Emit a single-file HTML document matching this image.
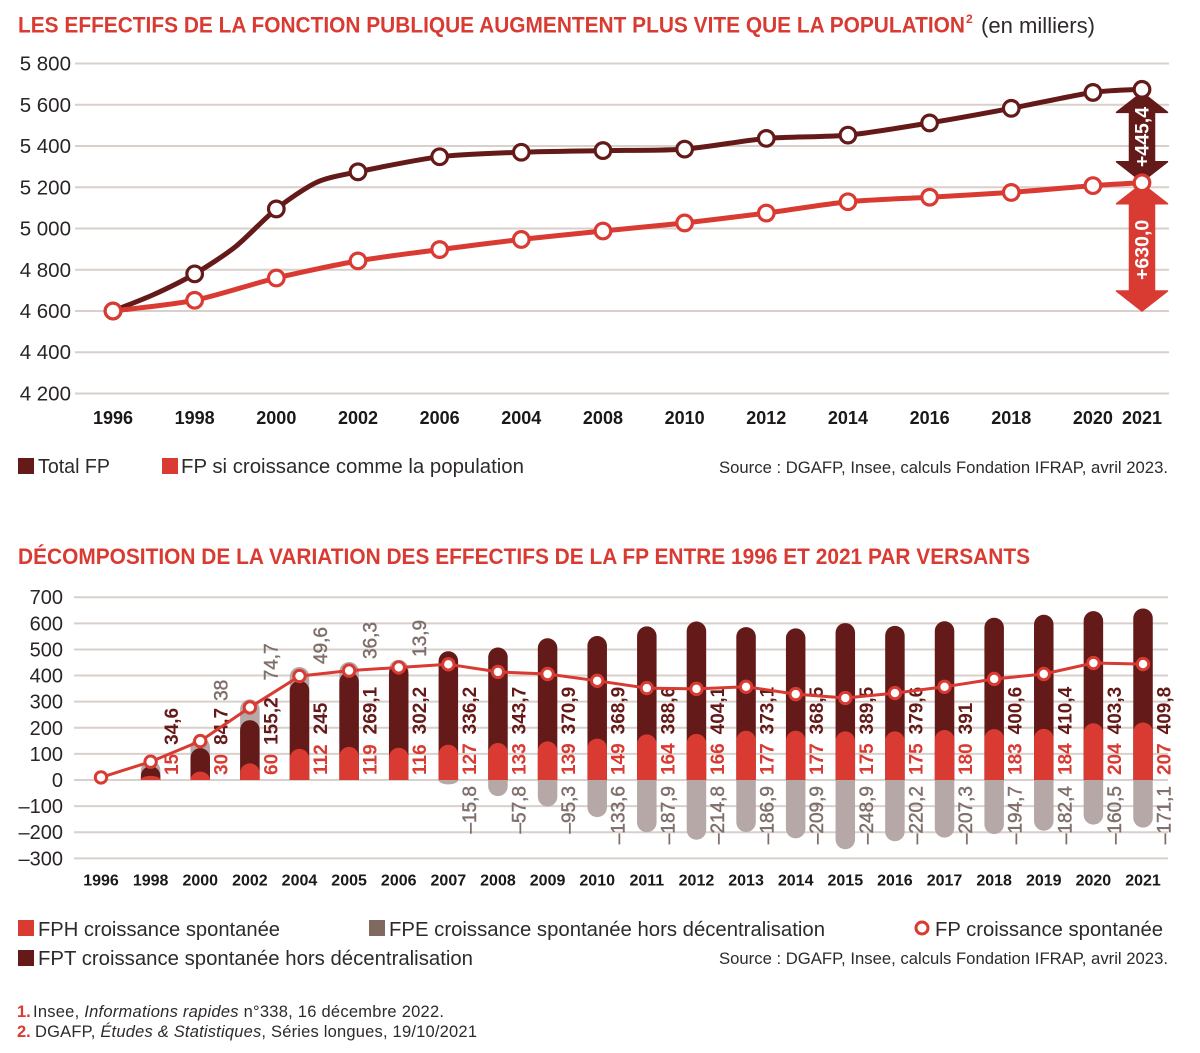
<!DOCTYPE html>
<html lang="fr">
<head>
<meta charset="utf-8">
<title>Effectifs de la fonction publique</title>
<style>
html,body{margin:0;padding:0;background:#fff;}
svg{display:block;font-family:"Liberation Sans",sans-serif;}
.title{font-size:22.5px;font-weight:700;fill:#d93a32;}
.legend{font-size:20px;fill:#2f2a2a;}
.source{font-size:16.5px;fill:#2f2a2a;}
.note{font-size:16.5px;fill:#2f2a2a;}
</style>
</head>
<body>
<svg id="page" width="1200" height="1053" viewBox="0 0 1200 1053" xmlns="http://www.w3.org/2000/svg">
  <rect width="1200" height="1053" fill="#ffffff"/>

  <text class="title" x="18" y="32.5" textLength="947" lengthAdjust="spacingAndGlyphs">LES EFFECTIFS DE LA FONCTION PUBLIQUE AUGMENTENT PLUS VITE QUE LA POPULATION</text>
  <text x="966" y="23" font-size="12" font-weight="700" fill="#d93a32">2</text>
  <text x="981" y="33" font-size="22" fill="#2f2a2a" textLength="114" lengthAdjust="spacingAndGlyphs">(en milliers)</text>

  <g id="top-chart"></g>

  <rect x="18" y="458" width="16" height="16" fill="#641a18"/>
  <text class="legend" x="38" y="473" textLength="72" lengthAdjust="spacingAndGlyphs">Total FP</text>
  <rect x="162" y="458" width="16" height="16" fill="#d93a32"/>
  <text class="legend" x="181" y="473" textLength="343" lengthAdjust="spacingAndGlyphs">FP si croissance comme la population</text>
  <text class="source" x="719" y="473" textLength="449" lengthAdjust="spacingAndGlyphs">Source : DGAFP, Insee, calculs Fondation IFRAP, avril 2023.</text>

  <text class="title" x="18" y="564" textLength="1012" lengthAdjust="spacingAndGlyphs">DÉCOMPOSITION DE LA VARIATION DES EFFECTIFS DE LA FP ENTRE 1996 ET 2021 PAR VERSANTS</text>

  <g id="bottom-chart"></g>

  <rect x="18" y="920" width="16" height="16" fill="#d93a32"/>
  <text class="legend" x="38" y="936" textLength="242" lengthAdjust="spacingAndGlyphs">FPH croissance spontanée</text>
  <rect x="369" y="920" width="16" height="16" fill="#80695f"/>
  <text class="legend" x="389" y="936" textLength="436" lengthAdjust="spacingAndGlyphs">FPE croissance spontanée hors décentralisation</text>
  <circle cx="922" cy="928" r="6" fill="#ffffff" stroke="#d93a32" stroke-width="3"/>
  <text class="legend" x="935" y="936" textLength="228" lengthAdjust="spacingAndGlyphs">FP croissance spontanée</text>
  <rect x="18" y="950" width="16" height="16" fill="#641a18"/>
  <text class="legend" x="38" y="965" textLength="435" lengthAdjust="spacingAndGlyphs">FPT croissance spontanée hors décentralisation</text>
  <text class="source" x="719" y="964" textLength="449" lengthAdjust="spacingAndGlyphs">Source : DGAFP, Insee, calculs Fondation IFRAP, avril 2023.</text>

  <text x="17" y="1017" font-size="16.5" font-weight="700" fill="#d93a32">1.</text>
  <text class="note" x="33" y="1017" textLength="411">Insee, <tspan font-style="italic">Informations rapides</tspan> n°338, 16 décembre 2022.</text>
  <text x="17" y="1037" font-size="16.5" font-weight="700" fill="#d93a32">2.</text>
  <text class="note" x="35" y="1037" textLength="442">DGAFP, <tspan font-style="italic">Études &amp; Statistiques</tspan>, Séries longues, 19/10/2021</text>
</svg>

<script>
// ---------- top chart data ----------
var topYears = ['1996','1998','2000','2002','2006','2004','2008','2010','2012','2014','2016','2018','2020','2021'];
var topTicks = [5800,5600,5400,5200,5000,4800,4600,4400,4200];
var totalFP = [4600,4780,5095,5275,5348,5370,5378,5385,5437,5453,5512,5583,5660,5675];
var popFP = [4600,4652,4760,4843,4898,4947,4988,5027,5075,5130,5152,5175,5208,5222];
var totalBetweenSlots = [0.5,1.5,2.5];
var totalBetweenValues = [4680,4912,5225];
var arrowTotalLabel = '+445,4';
var arrowPopLabel = '+630,0';

// ---------- bottom chart data ----------
var botYears = ['1996','1998','2000','2002','2004','2005','2006','2007','2008','2009','2010','2011','2012','2013','2014','2015','2016','2017','2018','2019','2020','2021'];
var botTicks = [700,600,500,400,300,200,100,0,-100,-200,-300];
var fph = [0,15,30,60,112,119,116,127,133,139,149,164,166,177,177,175,175,180,183,184,204,207];
var fpt = [0,34.6,84.7,155.2,245,269.1,302.2,336.2,343.7,370.9,368.9,388.6,404.1,373.1,368.5,389.5,379.6,391,400.6,410.4,403.3,409.8];
var fpe = [0,20,38,74.7,49.6,36.3,13.9,-15.8,-57.8,-95.3,-133.6,-187.9,-214.8,-186.9,-209.9,-248.9,-220.2,-207.3,-194.7,-182.4,-160.5,-171.1];
var fpTotal = [10,70,149,278,398,419,431,443,414,406,380,352,349,357,329,314,333,357,387,406,448,444];
var fpeHiddenLabelYears = ['1998'];

// ---------- colours ----------
var DARK = '#641a18', RED = '#d93a32', GREYBAR = '#b5a8a6', GREYTXT = '#7f6f6b', GRID = '#d9d0cc', INK = '#2a2525';
var NS = 'http://www.w3.org/2000/svg';

function mk(tag, attrs, parent, txt) {
  var el = document.createElementNS(NS, tag);
  for (var k in attrs) el.setAttribute(k, attrs[k]);
  if (txt !== undefined) el.textContent = txt;
  parent.appendChild(el);
  return el;
}
function fr(v) { return String(v).replace('.', ',').replace('-', '–'); }
function thousands(v) { var s = String(v); return s.length > 3 ? s.slice(0, -3) + ' ' + s.slice(-3) : s; }

// ---------- axis functions ----------
function xTop(i) { return i <= 12 ? 113 + 81.66 * i : 1093 + 49 * (i - 12); }
function yTop(v) { return 311 - (v - 4600) * 0.2062; }
function xBot(i) { return 101 + 49.62 * i; }
function yBot(v) { return 780 - v * 0.2611; }
function barLen(v) { return v * 0.278; }

function smooth(pts) {
  var d = 'M' + pts[0][0].toFixed(1) + ' ' + pts[0][1].toFixed(1);
  var t = 0.13;
  for (var i = 0; i < pts.length - 1; i++) {
    var p0 = pts[Math.max(i - 1, 0)], p1 = pts[i], p2 = pts[i + 1], p3 = pts[Math.min(i + 2, pts.length - 1)];
    d += ' C' + (p1[0] + (p2[0] - p0[0]) * t).toFixed(1) + ' ' + (p1[1] + (p2[1] - p0[1]) * t).toFixed(1) +
      ' ' + (p2[0] - (p3[0] - p1[0]) * t).toFixed(1) + ' ' + (p2[1] - (p3[1] - p1[1]) * t).toFixed(1) +
      ' ' + p2[0].toFixed(1) + ' ' + p2[1].toFixed(1);
  }
  return d;
}

// ---------- top chart ----------
(function () {
  var g = document.getElementById('top-chart');
  topTicks.forEach(function (t) {
    var line = mk('line', {x1: 75, x2: 1169, y1: yTop(t), y2: yTop(t), stroke: GRID, 'stroke-width': 2}, g);
    
    
    var lab = mk('text', {x: 71, y: yTop(t) + 7, 'text-anchor': 'end', 'font-size': 20.5, fill: INK}, g, thousands(t));
    
    
  });
  topYears.forEach(function (y, i) {
    var lab = mk('text', {x: xTop(i), y: 424, 'text-anchor': 'middle', 'font-size': 18, 'font-weight': 700, fill: '#1c1818'}, g, y);
    
    
  });

  function arrow(top, bottom, color, name) {
    var cx = xTop(13), hw = 25.5, sw = 12.5, hl = 20;
    var d = 'M' + cx + ' ' + top + ' L' + (cx + hw) + ' ' + (top + hl) + ' L' + (cx + sw) + ' ' + (top + hl) +
      ' L' + (cx + sw) + ' ' + (bottom - hl) + ' L' + (cx + hw) + ' ' + (bottom - hl) + ' L' + cx + ' ' + bottom +
      ' L' + (cx - hw) + ' ' + (bottom - hl) + ' L' + (cx - sw) + ' ' + (bottom - hl) + ' L' + (cx - sw) + ' ' + (top + hl) +
      ' L' + (cx - hw) + ' ' + (top + hl) + ' Z';
    var p = mk('path', {d: d, fill: color, stroke: color, 'stroke-width': 1.5, 'stroke-linejoin': 'round'}, g);
    
    
  }
  var yT = yTop(totalFP[13]), yP = yTop(popFP[13]), yB = yTop(popFP[0]);
  arrow(yT + 3, yP - 1, DARK, 'difference-arrow-total');
  arrow(yP + 1, yB, RED, 'difference-arrow-population');

  function arrowLabel(txt, cy, name) {
    var x = xTop(13) + 6.5;
    var t = mk('text', {x: x, y: cy, 'text-anchor': 'middle', 'font-size': 19.5, 'font-weight': 700, fill: '#ffffff',
      transform: 'rotate(-90 ' + x + ' ' + cy + ')'}, g, txt);
    
    
  }
  arrowLabel(arrowTotalLabel, (yT + yP) / 2 + 1, 'difference-label-total');
  arrowLabel(arrowPopLabel, (yP + yB) / 2 + 3, 'difference-label-population');

  var totalPts = [];
  totalFP.forEach(function (v, i) { totalPts.push([i, v]); });
  totalBetweenSlots.forEach(function (s, k) { totalPts.push([s, totalBetweenValues[k]]); });
  totalPts.sort(function (a, b) { return a[0] - b[0]; });
  var totalLine = mk('path', {d: smooth(totalPts.map(function (p) { return [xTop(p[0]), yTop(p[1])]; })),
    fill: 'none', stroke: DARK, 'stroke-width': 5, 'stroke-linejoin': 'round', 'stroke-linecap': 'round'}, g);
  
  
  totalFP.forEach(function (v, i) {
    var c = mk('circle', {cx: xTop(i), cy: yTop(v), r: 7.8, fill: '#fff', stroke: DARK, 'stroke-width': 3.2}, g);
    
    
  });

  var popLine = mk('path', {d: smooth(popFP.map(function (v, i) { return [xTop(i), yTop(v)]; })),
    fill: 'none', stroke: RED, 'stroke-width': 5, 'stroke-linejoin': 'round', 'stroke-linecap': 'round'}, g);
  
  
  popFP.forEach(function (v, i) {
    var c = mk('circle', {cx: xTop(i), cy: yTop(v), r: 7.8, fill: '#fff', stroke: RED, 'stroke-width': 3.2}, g);
    
    
  });
})();

// ---------- bottom chart ----------
(function () {
  var g = document.getElementById('bottom-chart');
  var W = 19.5;

  botTicks.forEach(function (t) {
    var line = mk('line', {x1: 74, x2: 1168, y1: yBot(t), y2: yBot(t), stroke: GRID, 'stroke-width': 2}, g);
    
    
    var lab = mk('text', {x: 63, y: yBot(t) + 7, 'text-anchor': 'end', 'font-size': 20, fill: INK}, g, fr(t));
    
    
  });
  botYears.forEach(function (y, i) {
    var lab = mk('text', {x: xBot(i), y: 885.5, 'text-anchor': 'middle', 'font-size': 16, 'font-weight': 700, fill: '#1c1818'}, g, y);
    
    
  });

  // bar shape: flat at the zero line, rounded at the value end
  function capped(cx, len, color, name) {
    if (len === 0) return null;
    var base = 780, end = base - len, dir = len > 0 ? 1 : -1;
    var ry = Math.min(W / 2, Math.abs(len));
    var d = 'M' + (cx - W / 2) + ' ' + base + ' L' + (cx - W / 2) + ' ' + (end + dir * ry) +
      ' A' + (W / 2) + ' ' + ry + ' 0 0 ' + (dir > 0 ? 1 : 0) + ' ' + (cx + W / 2) + ' ' + (end + dir * ry) +
      ' L' + (cx + W / 2) + ' ' + base + ' Z';
    var p = mk('path', {d: d, fill: color}, g);
    
    
    return p;
  }
  function textW(s) {
    var w = 0;
    for (var i = 0; i < s.length; i++) w += s[i] === ',' ? 5.28 : 10.56;
    return w;
  }
  function vLabel(x, y, anchor, color, weight, txt, name) {
    var t = mk('text', {x: x, y: y, 'text-anchor': anchor, 'font-size': 19, 'font-weight': weight, fill: color,
      transform: 'rotate(-90 ' + x + ' ' + y + ')'}, g, txt);
    if (weight === 400) {
      t.setAttribute('stroke', color);
      t.setAttribute('stroke-width', '0.45');
    }
    
    
  }

  botYears.forEach(function (year, i) {
    var cx = xBot(i);
    var stack = fph[i] + fpt[i];
    if (fpe[i] > 0) capped(cx, barLen(stack + fpe[i]), GREYBAR, 'bar-fpe-' + year);
    if (fpe[i] < 0) capped(cx, barLen(fpe[i]), GREYBAR, 'bar-fpe-' + year);
    capped(cx, barLen(stack), DARK, 'bar-fpt-' + year);
    capped(cx, barLen(fph[i]), RED, 'bar-fph-' + year);
    if (i === 0) return;

    var lx = cx + 27.5;
    var redTxt = fr(fph[i]), darkTxt = fr(fpt[i]), greyTxt = fr(fpe[i]);
    vLabel(lx, 775, 'start', RED, 700, redTxt, 'value-fph-' + year);
    var darkStart = 775 - textW(redTxt) - 9;
    vLabel(lx, darkStart, 'start', DARK, 700, darkTxt, 'value-fpt-' + year);
    if (fpeHiddenLabelYears.indexOf(year) >= 0) return;
    if (fpe[i] > 0) {
      var darkEnd = darkStart - textW(darkTxt);
      var top = 780 - barLen(stack + fpe[i]);
      var start = Math.min(darkEnd - 7, top - 3);
      if (year === '2002') start -= 10;
      vLabel(lx, start, 'start', GREYTXT, 400, greyTxt, 'value-fpe-' + year);
    } else {
      vLabel(lx, 786, 'end', GREYTXT, 400, greyTxt, 'value-fpe-' + year);
    }
  });

  var line = mk('path', {d: 'M' + fpTotal.map(function (v, i) { return xBot(i).toFixed(1) + ' ' + yBot(v).toFixed(1); }).join(' L'),
    fill: 'none', stroke: RED, 'stroke-width': 3, 'stroke-linejoin': 'round'}, g);
  
  
  fpTotal.forEach(function (v, i) {
    var c = mk('circle', {cx: xBot(i), cy: yBot(v), r: 5.7, fill: '#fff', stroke: RED, 'stroke-width': 3}, g);
    
    
  });
})();
</script>
</body>
</html>
